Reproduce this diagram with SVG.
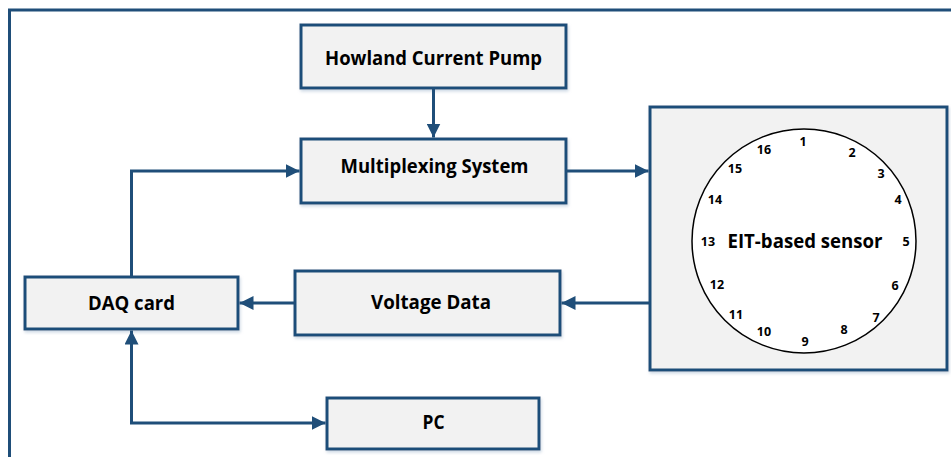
<svg xmlns="http://www.w3.org/2000/svg" width="951" height="457" viewBox="0 0 951 457">
<style>
.box{fill:#F2F2F2;stroke:#1F4E79;stroke-width:3}
.lbl{font-family:"Open Sans","Liberation Sans",sans-serif;font-weight:bold;font-size:19px;fill:#000;text-anchor:middle}
.num{font-family:"Open Sans","Liberation Sans",sans-serif;font-weight:bold;font-size:12.5px;fill:#000;text-anchor:middle}
.con{fill:none;stroke:#1F4E79;stroke-width:3}
</style>
<defs>
<marker id="ah" viewBox="0 0 14 14" refX="14" refY="7" markerWidth="14" markerHeight="14" markerUnits="userSpaceOnUse" orient="auto-start-reverse">
<path d="M0,0 L14,7 L0,14 z" fill="#1F4E79"/>
</marker>
<filter id="sh" x="-5%" y="-5%" width="110%" height="115%">
<feDropShadow dx="1" dy="2" stdDeviation="1.5" flood-color="#9DB3CC" flood-opacity="0.5"/>
</filter>
</defs>
<rect width="951" height="457" fill="#fff"/>
<path d="M9.5,457 V10 H951" fill="none" stroke="#1F4E79" stroke-width="3"/>
<g id="howland"><rect class="box" x="301" y="25" width="265" height="63" filter="url(#sh)"/><text class="lbl" x="433.5" y="64.5" textLength="217" lengthAdjust="spacingAndGlyphs">Howland Current Pump</text></g>
<g id="mux"><rect class="box" x="301" y="139" width="265" height="64" filter="url(#sh)"/><text class="lbl" x="434.5" y="172.5" textLength="188" lengthAdjust="spacingAndGlyphs">Multiplexing System</text></g>
<g id="daq"><rect class="box" x="25" y="277" width="213" height="52" filter="url(#sh)"/><text class="lbl" x="131.5" y="310" textLength="87" lengthAdjust="spacingAndGlyphs">DAQ card</text></g>
<g id="voltage"><rect class="box" x="295" y="271" width="265" height="64" filter="url(#sh)"/><text class="lbl" x="431" y="309" textLength="120" lengthAdjust="spacingAndGlyphs">Voltage Data</text></g>
<g id="pc"><rect class="box" x="327" y="398" width="212" height="51" filter="url(#sh)"/><text class="lbl" x="433.5" y="428.5" textLength="22" lengthAdjust="spacingAndGlyphs">PC</text></g>
<g id="sensor">
<rect class="box" x="650" y="107" width="297" height="263" filter="url(#sh)"/>
<circle cx="804" cy="241" r="112" fill="#fff" stroke="#000" stroke-width="1.5"/>
<text class="lbl" x="805" y="247.5" textLength="155" lengthAdjust="spacingAndGlyphs">EIT-based sensor</text>
<text class="num" x="803" y="146">1</text>
<text class="num" x="852" y="157">2</text>
<text class="num" x="881" y="178">3</text>
<text class="num" x="898" y="204">4</text>
<text class="num" x="906" y="246">5</text>
<text class="num" x="895" y="290">6</text>
<text class="num" x="876" y="322">7</text>
<text class="num" x="844" y="334">8</text>
<text class="num" x="805" y="346">9</text>
<text class="num" x="764" y="336">10</text>
<text class="num" x="736" y="319">11</text>
<text class="num" x="717" y="289">12</text>
<text class="num" x="708" y="246">13</text>
<text class="num" x="715" y="204">14</text>
<text class="num" x="735" y="173">15</text>
<text class="num" x="764" y="154">16</text>
</g>
<g id="connectors">
<path class="con" d="M433.5,88 V137.5" marker-end="url(#ah)"/>
<path class="con" d="M131.5,277 V171 H299.5" marker-end="url(#ah)"/>
<path class="con" d="M566,171 H648.5" marker-end="url(#ah)"/>
<path class="con" d="M650,303 H561.5" marker-end="url(#ah)"/>
<path class="con" d="M295,303 H239.5" marker-end="url(#ah)"/>
<path class="con" d="M131.5,330.5 V423 H325.5" marker-start="url(#ah)" marker-end="url(#ah)"/>
</g>
</svg>
